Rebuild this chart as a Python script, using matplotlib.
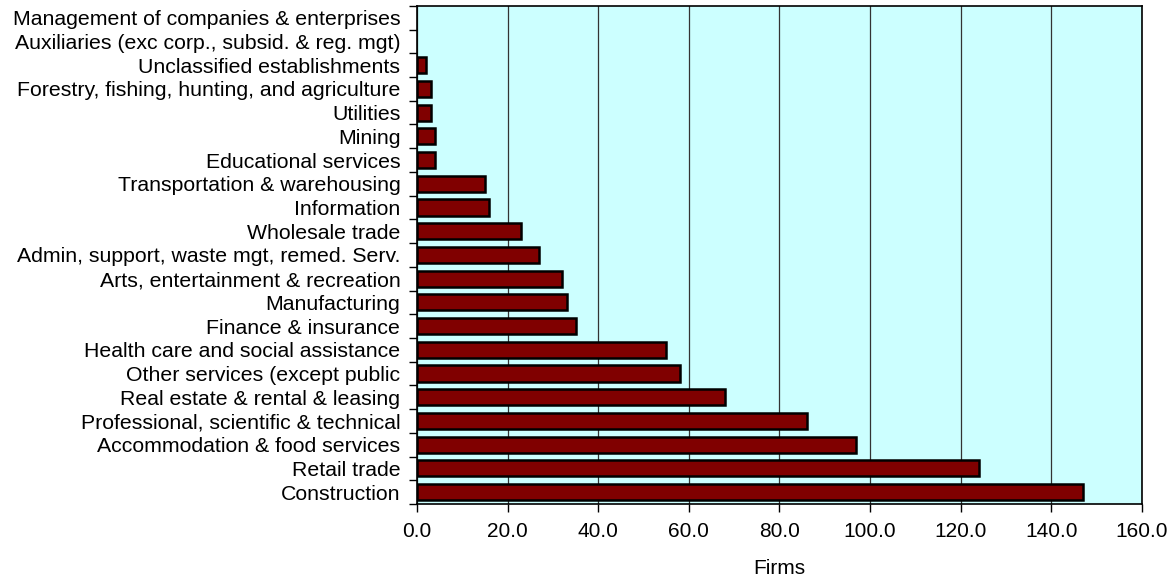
import numpy as np
import matplotlib.pyplot as plt

plt.rcParams['font.family'] = ['Liberation Sans', 'DejaVu Sans']

# top to bottom as in the chart
industries = [
    'Management of companies & enterprises',
    'Auxiliaries (exc corp., subsid. & reg. mgt)',
    'Unclassified establishments',
    'Forestry, fishing, hunting, and agriculture',
    'Utilities',
    'Mining',
    'Educational services',
    'Transportation & warehousing',
    'Information',
    'Wholesale trade',
    'Admin, support, waste mgt, remed. Serv.',
    'Arts, entertainment & recreation',
    'Manufacturing',
    'Finance & insurance',
    'Health care and social assistance',
    'Other services (except public',
    'Real estate & rental & leasing',
    'Professional, scientific & technical',
    'Accommodation & food services',
    'Retail trade',
    'Construction',
]
firms = [0, 0, 2, 3, 3, 4, 4, 15, 16, 23, 27, 32, 33, 35, 55, 58, 68, 86, 97, 124, 147]
xticks = [0, 20, 40, 60, 80, 100, 120, 140, 160]

fig = plt.figure(figsize=(11.73, 5.81), dpi=100)
ax = fig.add_axes([0.3555, 0.1325, 0.618, 0.8575])
ax.set_facecolor('#CCFFFF')

n = len(industries)
y = np.arange(n)[::-1]
# no outline on empty bars
lw = [1.8 if v > 0 else 0 for v in firms]
ax.barh(y, firms, height=0.68, color='#800000', edgecolor='black', linewidth=lw, zorder=3)

ax.set_ylim(-0.5, n - 0.5)
ax.set_yticks(y)
ax.set_yticklabels(industries, fontsize=15.3)
ax.tick_params(axis='y', length=0, pad=12)
# ticks between categories
ax.set_yticks(np.arange(n + 1) - 0.5, minor=True)
ax.tick_params(axis='y', which='minor', length=6, width=1, direction='out')

ax.set_xlim(0, 160)
ax.set_xticks(xticks)
ax.set_xticklabels([f'{v:.1f}' for v in xticks], fontsize=15)
ax.tick_params(axis='x', length=6, width=1, direction='out', pad=7)
ax.xaxis.grid(True, color='#333333', linewidth=0.9, zorder=1)
ax.set_axisbelow(True)
ax.set_xlabel('Firms', fontsize=15, labelpad=13)

for s in ax.spines.values():
    s.set_color('black')
    s.set_linewidth(1.2)

fig.savefig('out.png', dpi=100)
